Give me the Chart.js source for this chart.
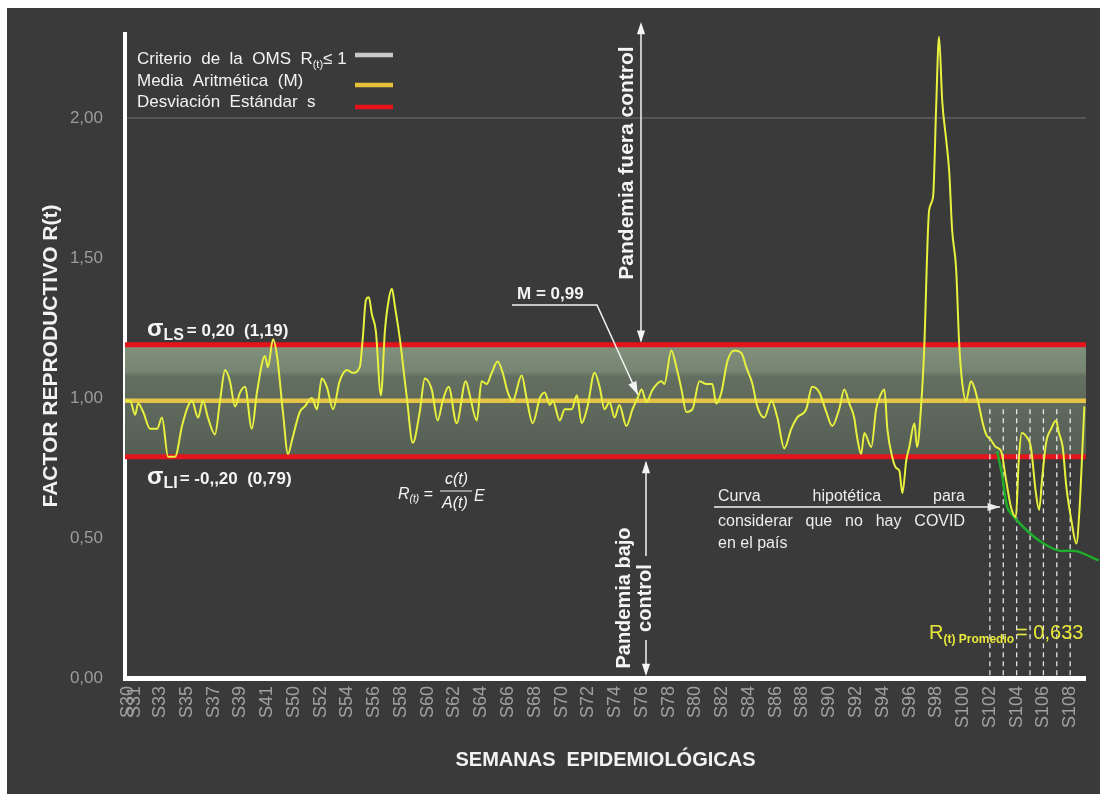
<!DOCTYPE html>
<html lang="es">
<head>
<meta charset="UTF-8">
<title>Factor reproductivo R(t)</title>
<script src="https://cdn.jsdelivr.net/npm/chart.js"></script>
<style>
  html, body { margin: 0; padding: 0; background: #fff; }
</style>
</head>
<body>
<canvas id="rtChart" width="1100" height="794"></canvas>
<script>
// eje X: etiquetas de semanas y su posición (en casillas del eje)
const weekLabels = ['S30','S31','S33','S35','S37','S39','S41','S50','S52','S54','S56','S58','S60','S62','S64','S66','S68','S70','S72','S74','S76','S78','S80','S82','S84','S86','S88','S90','S92','S94','S96','S98','S100','S102','S104','S106','S108'];
const weekPos = [-0.2, 0.05, 1, 2, 3, 4, 5, 6, 7, 8, 9, 10, 11, 12, 13, 14, 15, 16, 17, 18, 19, 20, 21, 22, 23, 24, 25, 26, 27, 28, 29, 30, 31, 32, 33, 34, 35];
const yTicks = [0, 0.5, 1, 1.5, 2];

// R(t) observado
const rPos = [-0.27,-0.12,0.07,0.18,0.37,0.63,0.89,1.07,1.30,1.56,1.82,2.04,2.19,2.42,2.60,2.79,3.05,3.24,3.43,3.61,3.80,3.99,4.17,4.43,4.62,4.92,5.03,5.22,5.37,5.59,5.78,5.93,6.22,6.41,6.67,6.86,7.04,7.23,7.46,7.71,7.98,8.20,8.46,8.57,8.69,8.80,8.91,9.06,9.25,9.40,9.54,9.66,9.77,9.96,10.22,10.44,10.70,10.89,11.15,11.37,11.56,11.78,12.08,12.42,12.57,12.83,13.01,13.20,13.39,13.61,13.80,13.99,14.17,14.51,14.69,14.92,15.19,15.37,15.56,15.67,15.93,16.12,16.38,16.57,16.75,16.97,17.23,17.42,17.60,17.79,17.98,18.16,18.42,18.65,18.84,18.99,19.17,19.40,19.73,19.84,20.10,20.29,20.48,20.66,20.89,21.15,21.41,21.63,21.78,21.97,22.19,22.45,22.72,22.90,23.13,23.31,23.57,23.84,24.06,24.32,24.58,24.80,25.14,25.36,25.63,25.89,26.11,26.37,26.56,26.75,26.93,27.04,27.19,27.31,27.57,27.75,27.87,28.06,28.17,28.35,28.50,28.62,28.73,28.88,28.99,29.18,29.28,29.43,29.54,29.73,29.88,29.99,30.10,30.22,30.37,30.48,30.59,30.74,30.85,30.96,31.11,31.29,31.41,31.60,31.71,31.86,32.04,32.22,32.42,32.60,32.79,32.97,33.08,33.19,33.38,33.53,33.72,33.84,33.95,34.10,34.29,34.47,34.58,34.72,34.86,35.05,35.23,35.34,35.46,35.53];
const rValues = [0.99,0.99,0.94,0.98,0.95,0.89,0.89,0.93,0.79,0.79,0.90,0.97,0.99,0.93,0.99,0.93,0.87,0.99,1.10,1.06,0.97,1.02,1.04,0.89,1.02,1.15,1.11,1.21,1.15,0.95,0.80,0.85,0.95,0.97,1.00,0.96,1.07,1.04,0.96,1.06,1.10,1.09,1.11,1.21,1.35,1.36,1.30,1.24,1.01,1.24,1.35,1.39,1.33,1.21,1.00,0.84,0.95,1.07,1.03,0.92,0.99,1.04,0.91,1.06,1.01,0.92,1.06,1.05,1.09,1.13,1.09,1.02,0.99,1.08,1.00,0.91,1.00,1.02,0.975,0.99,0.92,0.96,0.96,1.01,0.91,0.97,1.09,1.04,0.96,0.985,0.93,0.975,0.90,0.96,1.00,1.03,0.985,1.03,1.06,1.05,1.17,1.11,1.03,0.95,0.96,1.06,1.05,1.05,0.98,1.02,1.13,1.17,1.16,1.11,1.05,0.97,0.93,0.99,0.93,0.82,0.89,0.93,0.96,1.04,1.02,0.95,0.90,0.96,1.03,0.98,0.93,0.86,0.80,0.875,0.825,0.96,1.00,1.03,0.89,0.79,0.75,0.74,0.66,0.78,0.825,0.91,0.825,0.97,1.16,1.67,1.72,2.03,2.29,2.06,1.92,1.81,1.60,1.46,1.20,1.06,0.99,1.06,1.04,0.97,0.92,0.87,0.85,0.825,0.81,0.71,0.61,0.575,0.78,0.875,0.86,0.825,0.66,0.60,0.71,0.84,0.89,0.92,0.875,0.825,0.68,0.56,0.48,0.59,0.825,0.97];

// curva hipotética (sin COVID)
const hypoPos = [32.27, 32.45, 32.65, 32.94, 33.58, 34.10, 34.58, 35.23, 36.07];
const hypoValues = [0.81, 0.73, 0.61, 0.57, 0.51, 0.475, 0.455, 0.453, 0.42];

// semanas finales marcadas (S102 ... S108)
const lastWeeksPos = [32, 32.5, 33, 33.5, 34, 34.5, 35];

const meanR = 0.99;
const sdUpper = 1.19;
const sdLower = 0.79;
const xMin = -0.31, xMax = 35.59;

const SANS = "'Liberation Sans', Arial, sans-serif";

const zip = (xs, ys) => xs.map((v, i) => ({ x: v, y: ys[i] }));
const hline = v => [{ x: xMin, y: v }, { x: xMax, y: v }];
const dashData = [];
lastWeeksPos.forEach(p => { dashData.push({ x: p, y: 0.96 }, { x: p, y: 0 }, { x: p, y: null }); });

function bandFill(c) {
  const { chart } = c;
  if (!chart.chartArea) return 'transparent';
  const y = chart.scales.y;
  const g = chart.ctx.createLinearGradient(0, y.getPixelForValue(sdUpper), 0, y.getPixelForValue(sdLower));
  g.addColorStop(0, 'rgb(128,145,124)');
  g.addColorStop(0.24, 'rgb(118,133,114)');
  g.addColorStop(0.28, 'rgb(99,111,97)');
  g.addColorStop(1, 'rgb(86,94,84)');
  return g;
}

function arrowHead(ctx, x1, y1, x2, y2, size) {
  const a = Math.atan2(y2 - y1, x2 - x1);
  ctx.beginPath();
  ctx.moveTo(x2, y2);
  ctx.lineTo(x2 - size * Math.cos(a - 0.32), y2 - size * Math.sin(a - 0.32));
  ctx.lineTo(x2 - size * Math.cos(a + 0.32), y2 - size * Math.sin(a + 0.32));
  ctx.closePath();
  ctx.fill();
}

function textRuns(ctx, x, y, parts) {
  parts.forEach(p => {
    ctx.font = p.font;
    ctx.fillText(p.text, x, y + (p.dy || 0));
    x += ctx.measureText(p.text).width + (p.gap || 0);
  });
  return x;
}

function justified(ctx, text, x, y, width) {
  const words = text.split(' ');
  const total = words.reduce((s, w) => s + ctx.measureText(w).width, 0);
  const gap = (width - total) / (words.length - 1);
  words.forEach(w => { ctx.fillText(w, x, y); x += ctx.measureText(w).width + gap; });
}

const fondo = {
  id: 'fondo',
  beforeDraw(chart) {
    const { ctx, width, height } = chart;
    ctx.save();
    ctx.fillStyle = '#ffffff';
    ctx.fillRect(0, 0, width, height);
    ctx.fillStyle = '#3a3a3a';
    ctx.fillRect(7, 8, width - 7, height - 8);
    ctx.restore();
  }
};

const notas = {
  id: 'notas',
  afterDraw(chart) {
    const { ctx, chartArea: a, scales: { x, y } } = chart;
    ctx.save();
    ctx.textBaseline = 'alphabetic';
    ctx.textAlign = 'left';

    // leyenda
    ctx.fillStyle = '#f2f2f2';
    textRuns(ctx, 137, 64, [
      { text: 'Criterio  de  la  OMS  R', font: '17px ' + SANS },
      { text: '(t)', font: '11px ' + SANS, dy: 4 },
      { text: '≤ 1', font: '17px ' + SANS }
    ]);
    ctx.font = '17px ' + SANS;
    ctx.fillText('Media  Aritmética  (M)', 137, 86);
    ctx.fillText('Desviación  Estándar  s', 137, 107);
    ctx.lineWidth = 4.5;
    [['#c9c9c9', 55], ['#e5c23a', 85], ['#e8141b', 107]].forEach(([c, ly]) => {
      ctx.strokeStyle = c;
      ctx.beginPath(); ctx.moveTo(355, ly); ctx.lineTo(393, ly); ctx.stroke();
    });

    // límites de desviación
    ctx.fillStyle = '#f4f4f4';
    const yU = y.getPixelForValue(sdUpper), yL = y.getPixelForValue(sdLower);
    textRuns(ctx, a.left + 22, yU - 9, [
      { text: 'σ', font: 'bold 24px ' + SANS },
      { text: 'LS', font: 'bold 16px ' + SANS, dy: 4, gap: 3 },
      { text: '= 0,20  (1,19)', font: 'bold 17px ' + SANS }
    ]);
    textRuns(ctx, a.left + 22, yL + 27, [
      { text: 'σ', font: 'bold 24px ' + SANS },
      { text: 'LI', font: 'bold 16px ' + SANS, dy: 4, gap: 2 },
      { text: '= -0,,20  (0,79)', font: 'bold 17px ' + SANS }
    ]);

    // fórmula
    textRuns(ctx, 398, 499, [
      { text: 'R', font: 'italic 16px ' + SANS },
      { text: '(t)', font: 'italic 10px ' + SANS, dy: 3 },
      { text: ' =', font: 'italic 16px ' + SANS }
    ]);
    ctx.font = 'italic 16px ' + SANS;
    ctx.fillText('c(t)', 445, 484);
    ctx.fillText('A(t)', 442, 508);
    ctx.fillText('E', 474, 501);
    ctx.strokeStyle = '#f0f0f0';
    ctx.lineWidth = 1;
    ctx.beginPath(); ctx.moveTo(440, 491); ctx.lineTo(472, 491); ctx.stroke();

    // media
    ctx.font = 'bold 17px ' + SANS;
    ctx.fillText('M = 0,99', 517, 299);
    ctx.strokeStyle = '#f4f4f4';
    ctx.fillStyle = '#f4f4f4';
    ctx.lineWidth = 1.5;
    const mx = x.getPixelForValue(18.85), my = y.getPixelForValue(meanR) - 6;
    ctx.beginPath(); ctx.moveTo(512, 305); ctx.lineTo(597, 305); ctx.lineTo(mx, my); ctx.stroke();
    arrowHead(ctx, 597, 305, mx, my, 14);

    // pandemia fuera / bajo control
    const ax = 641;
    ctx.lineWidth = 1.5;
    ctx.beginPath(); ctx.moveTo(ax, 26); ctx.lineTo(ax, yU - 4); ctx.stroke();
    arrowHead(ctx, ax, 100, ax, 22, 13);
    arrowHead(ctx, ax, 100, ax, yU - 2, 13);
    const bx = 646;
    ctx.beginPath(); ctx.moveTo(bx, yL + 6); ctx.lineTo(bx, a.bottom - 4); ctx.stroke();
    arrowHead(ctx, bx, 600, bx, yL + 4, 13);
    arrowHead(ctx, bx, 500, bx, a.bottom - 2, 13);

    ctx.save();
    ctx.translate(627, 163);
    ctx.rotate(-Math.PI / 2);
    ctx.textAlign = 'center';
    ctx.textBaseline = 'middle';
    ctx.font = 'bold 21px ' + SANS;
    ctx.fillText('Pandemia fuera control', 0, 0);
    ctx.restore();

    ctx.save();
    ctx.translate(633, 598);
    ctx.rotate(-Math.PI / 2);
    ctx.textAlign = 'center';
    ctx.textBaseline = 'middle';
    ctx.font = 'bold 20px ' + SANS;
    ctx.fillStyle = '#3a3a3a';
    ctx.fillRect(-42, 2, 84, 20);
    ctx.fillStyle = '#f4f4f4';
    ctx.fillText('Pandemia bajo', 0, -9);
    ctx.fillText('control', 0, 12);
    ctx.restore();

    // curva hipotética
    ctx.font = '16px ' + SANS;
    ctx.fillStyle = '#ececec';
    justified(ctx, 'Curva hipotética para', 718, 501, 247);
    justified(ctx, 'considerar que no hay COVID', 718, 526, 247);
    ctx.fillText('en el país', 718, 548);
    ctx.lineWidth = 1.5;
    const hx = x.getPixelForValue(hypoPos[1]) - 2;
    ctx.beginPath(); ctx.moveTo(714, 507); ctx.lineTo(hx, 507); ctx.stroke();
    arrowHead(ctx, 714, 507, hx, 507, 13);

    // promedio final
    ctx.fillStyle = '#e8e83a';
    textRuns(ctx, 929, 639, [
      { text: 'R', font: '20px ' + SANS },
      { text: '(t) Promedio', font: 'bold 12px ' + SANS, dy: 4, gap: 2 },
      { text: '= 0,633', font: '20px ' + SANS }
    ]);
    ctx.restore();
  }
};

Chart.defaults.font.family = SANS;

new Chart(document.getElementById('rtChart'), {
  type: 'line',
  data: {
    datasets: [
      { label: 'R(t)', data: zip(rPos, rValues), borderColor: '#e7f13e', borderWidth: 2,
        pointRadius: 0, cubicInterpolationMode: 'monotone' },
      { label: 'Curva hipotética', data: zip(hypoPos, hypoValues), borderColor: '#1fae2b',
        borderWidth: 2.5, pointRadius: 0, tension: 0.3, clip: false },
      { label: 'Semanas', data: dashData, borderColor: 'rgba(255,255,255,0.85)', borderWidth: 1.3,
        borderDash: [5, 4], pointRadius: 0, spanGaps: false },
      { label: 'Media Aritmética (M)', data: hline(meanR), borderColor: '#e5c346', borderWidth: 4.5, pointRadius: 0 },
      { label: 'Desviación +s', data: hline(sdUpper), borderColor: '#e3141b', borderWidth: 5, pointRadius: 0 },
      { label: 'Desviación -s', data: hline(sdLower), borderColor: '#e3141b', borderWidth: 5, pointRadius: 0 },
      { label: 'Banda', data: hline(sdUpper), borderWidth: 0, pointRadius: 0,
        fill: { value: sdLower }, backgroundColor: bandFill }
    ]
  },
  options: {
    responsive: false,
    animation: false,
    devicePixelRatio: 1,
    layout: { padding: { top: 34, right: 13, left: 0, bottom: 0 } },
    plugins: { legend: { display: false }, tooltip: { enabled: false } },
    scales: {
      x: {
        type: 'linear',
        min: xMin,
        max: xMax,
        grid: { display: false, drawTicks: false },
        border: { display: true, color: '#ffffff', width: 5 },
        afterBuildTicks: s => { s.ticks = weekPos.map(v => ({ value: v })); },
        afterFit: s => { s.height = 116; },
        ticks: {
          autoSkip: false, maxRotation: 90, minRotation: 90, padding: 8,
          color: '#a0a0a0', font: { size: 18 },
          callback: (v, i) => weekLabels[i]
        },
        title: {
          display: true, text: 'SEMANAS  EPIDEMIOLÓGICAS', color: '#f2f2f2',
          font: { size: 20, weight: 'bold' }, padding: { top: 0, bottom: 22 }
        }
      },
      y: {
        min: 0,
        max: 2.3,
        grid: {
          drawTicks: false, lineWidth: 2,
          color: c => (c.tick && c.tick.value === 2 ? 'rgba(255,255,255,0.14)' : 'transparent')
        },
        border: { display: true, color: '#ffffff', width: 4 },
        afterBuildTicks: s => { s.ticks = yTicks.map(v => ({ value: v })); },
        afterFit: s => { s.width = 125; },
        ticks: {
          padding: 22, color: '#9c9c9c', font: { size: 17 },
          callback: v => v.toFixed(2).replace('.', ',')
        },
        title: {
          display: true, text: 'FACTOR REPRODUCTIVO R(t)', color: '#f2f2f2',
          font: { size: 21, weight: 'bold' }, padding: { top: 39, bottom: 0 }
        }
      }
    }
  },
  plugins: [fondo, notas]
});
</script>
</body>
</html>
